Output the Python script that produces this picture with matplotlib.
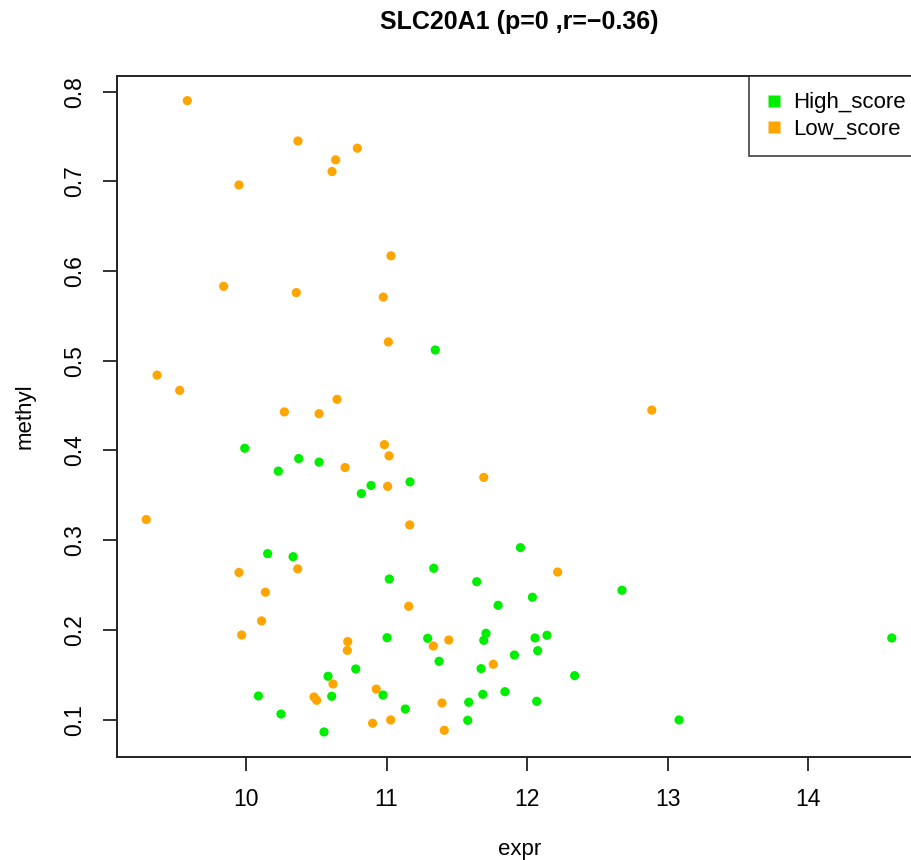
import matplotlib
matplotlib.use("Agg")
import matplotlib.pyplot as plt
from matplotlib.lines import Line2D

plt.rcParams['font.family'] = ['Liberation Sans', 'DejaVu Sans']

high_expr = [9.991, 10.230, 10.375, 10.520, 10.890, 10.821, 11.167, 11.347, 11.953,
             10.154, 10.335, 11.020, 11.004, 10.781, 10.584, 10.975, 10.088, 10.610,
             11.134, 10.249, 10.555, 11.336, 11.642, 12.676, 12.038, 11.794, 11.708,
             11.692, 11.293, 12.057, 12.142, 12.076, 11.910, 11.374, 11.673, 12.339,
             11.685, 11.843, 11.585, 12.069, 11.578, 13.082, 14.596]
high_methyl = [0.4025, 0.377, 0.391, 0.387, 0.361, 0.352, 0.365, 0.512, 0.2917,
               0.285, 0.2816, 0.2567, 0.1913, 0.1564, 0.1483, 0.1274, 0.1263, 0.126,
               0.1118, 0.1062, 0.0862, 0.2687, 0.2537, 0.2442, 0.2364, 0.2274, 0.1962,
               0.1884, 0.1906, 0.1910, 0.194, 0.1768, 0.172, 0.165, 0.1568, 0.149,
               0.1282, 0.1311, 0.1193, 0.1204, 0.0992, 0.0996, 0.191]

low_expr = [9.582, 10.370, 10.792, 10.638, 10.612, 9.950, 11.032, 9.841, 10.358,
            10.977, 11.013, 9.367, 9.528, 10.273, 10.520, 10.648, 10.985, 11.018,
            10.705, 11.008, 9.290, 11.165, 12.888, 11.692, 9.950, 10.368, 11.158,
            10.138, 10.111, 9.969, 10.724, 10.721, 10.619, 10.927, 10.484, 10.503,
            10.901, 11.030, 12.218, 11.443, 11.333, 11.760, 11.395, 11.411]
low_methyl = [0.790, 0.745, 0.737, 0.724, 0.711, 0.696, 0.617, 0.583, 0.576,
              0.571, 0.521, 0.484, 0.467, 0.443, 0.441, 0.457, 0.4065, 0.394,
              0.381, 0.360, 0.323, 0.317, 0.445, 0.370, 0.264, 0.268, 0.2263,
              0.242, 0.210, 0.1943, 0.187, 0.1772, 0.1397, 0.134, 0.1252, 0.1215,
              0.0959, 0.0996, 0.2645, 0.1887, 0.182, 0.1617, 0.1185, 0.0881]

series_labels = ["High_score", "Low_score"]
series_colors = ["#00EE00", "#FFA500"]
x_ticks = [10, 11, 12, 13, 14]
y_ticks = [0.1, 0.2, 0.3, 0.4, 0.5, 0.6, 0.7, 0.8]
title = "SLC20A1 (p=0 ,r=\u22120.36)"

W, H = 912, 860
fig = plt.figure(figsize=(W / 100, H / 100), dpi=100)
left, right, top, bottom = 117, 922, 75.7, 757
ax = fig.add_axes([left / W, 1 - bottom / H, (right - left) / W, (bottom - top) / H])

ax.scatter(high_expr, high_methyl, s=44, color=series_colors[0], edgecolors='none', zorder=3)
ax.scatter(low_expr, low_methyl, s=44, color=series_colors[1], edgecolors='none', zorder=3)

ax.set_xlim(9.0819, 14.811)
ax.set_ylim(0.0583, 0.8178)
ax.set_xticks(x_ticks)
ax.set_xticklabels([str(t) for t in x_ticks])
ax.set_yticks(y_ticks)
ax.set_yticklabels([f"{t:.1f}" for t in y_ticks], rotation=90, va='center')

for sp in ax.spines.values():
    sp.set_linewidth(1.4)
    sp.set_color('#222222')
ax.tick_params(axis='both', length=10, width=1.3, color='#222222', labelsize=16.5, pad=12)

handles = [Line2D([], [], marker='s', linestyle='none', markersize=8,
                  markerfacecolor=c, markeredgecolor='none') for c in series_colors]
leg = ax.legend(handles, series_labels, loc='upper right', borderaxespad=0,
                fancybox=False, frameon=True, edgecolor='#222222', fontsize=16,
                handletextpad=0.5, borderpad=0.75, labelspacing=0.24,
                handlelength=0.7)
leg.get_frame().set_linewidth(1.3)

fig.text(519.5 / W, 1 - 22 / H, title, ha='center', va='center', fontsize=18, fontweight='bold')
fig.text(519.5 / W, 1 - 850 / H, "expr", ha='center', va='center', fontsize=16)
fig.text(25 / W, 1 - 416 / H, "methyl", ha='center', va='center', fontsize=16, rotation=90)

fig.savefig("out.png", dpi=100)
